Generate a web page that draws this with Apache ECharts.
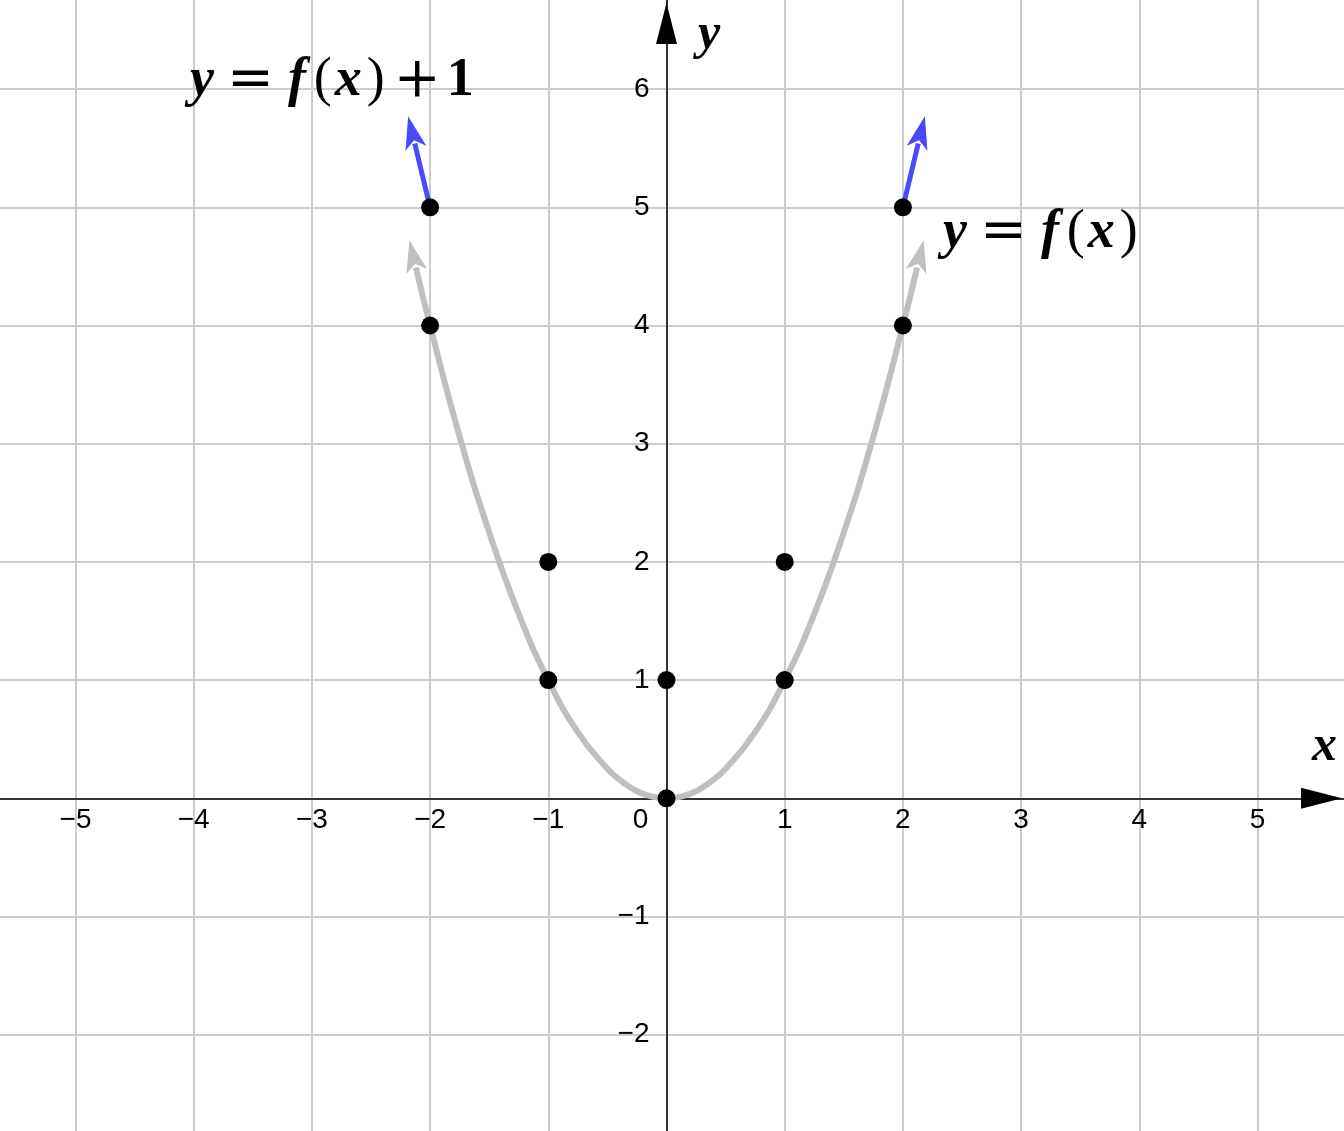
<!DOCTYPE html>
<html>
<head>
<meta charset="utf-8">
<script src="https://cdn.jsdelivr.net/npm/echarts@6/dist/echarts.min.js"></script>
<style>
html,body{margin:0;padding:0;background:#fff;overflow:hidden;}
#chart{width:1344px;height:1131px;}
</style>
</head>
<body>
<div id="chart"></div>
<script>
// ---- data ----
const xTickMin = -6, xTickMax = 6;   // unit grid, x
const yTickMin = -3, yTickMax = 7;   // unit grid, y

// y = f(x): grey parabola (ends carry arrowheads)
const curveX = [-2.12, -2, -1.75, -1.5, -1.25, -1, -0.75, -0.5, -0.375, -0.25, -0.125, 0, 0.125, 0.25, 0.375, 0.5, 0.75, 1, 1.25, 1.5, 1.75, 2, 2.12];
const curveY = [4.49, 4, 3.06, 2.25, 1.56, 1, 0.56, 0.25, 0.14, 0.06, 0.016, 0, 0.016, 0.06, 0.14, 0.25, 0.56, 1, 1.56, 2.25, 3.06, 4, 4.49];

// y = f(x) + 1: short blue arrow tails
const blueLeftX = [-2, -2.13];
const blueLeftY = [5, 5.54];
const blueRightX = [2, 2.13];
const blueRightY = [5, 5.54];

// black points
const pointX = [-2, -2, -1, -1, 0, 0, 1, 1, 2, 2];
const pointY = [4, 5, 1, 2, 0, 1, 1, 2, 4, 5];

// ---- layout (pixels) ----
const W = 1344, H = 1131;
const unit = 118.2;            // px per unit
const originX = 666.5, originY = 798.3;
const gridLeft = originX + xTickMin * unit;            // negative: grid extends past the canvas
const gridRightEdge = originX + xTickMax * unit;
const gridTop = originY - yTickMax * unit;
const gridBottomEdge = originY - yTickMin * unit;

// ---- build ----
const minus = v => (v < 0 ? '\u2212' + Math.abs(v) : String(v));

// arrowhead on the last point, pushed forward along its direction
function withEndArrow(xs, ys, size, angleDeg, push) {
  const a = angleDeg * Math.PI / 180;
  return xs.map((x, i) => {
    const item = { value: [x, ys[i]] };
    if (i === xs.length - 1) {
      item.symbol = 'arrow';
      item.symbolSize = size;
      item.symbolRotate = angleDeg;
      item.symbolOffset = [-Math.sin(a) * push, -Math.cos(a) * push];
    }
    return item;
  });
}

const curveData = withEndArrow(curveX, curveY, [16, 32], -13.5, 28);
{
  const a = 13.5 * Math.PI / 180;
  curveData[0].symbol = 'arrow';
  curveData[0].symbolSize = [16, 32];
  curveData[0].symbolRotate = 13.5;
  curveData[0].symbolOffset = [-Math.sin(a) * 28, -Math.cos(a) * 28];
}

const serif = "'Liberation Serif', serif";
const opFont = "'DejaVu Serif', serif";
const FS = 54;
const mathRich = {
  v:  { fontFamily: serif, fontStyle: 'italic', fontWeight: 'bold', fontSize: FS, color: '#000' },
  eq: { fontFamily: opFont, fontWeight: 'normal', fontSize: 56, color: '#000', padding: [0, 14, 0, 13] },
  lp: { fontFamily: serif, fontWeight: 'normal', fontSize: FS, color: '#000', padding: [0, 0, 0, 8] },
  xv: { fontFamily: serif, fontStyle: 'italic', fontWeight: 'bold', fontSize: FS, color: '#000', padding: [0, 0, 0, 3] },
  rp: { fontFamily: serif, fontWeight: 'normal', fontSize: FS, color: '#000', padding: [0, 0, 0, 5] },
  pl: { fontFamily: opFont, fontWeight: 'normal', fontSize: 56, color: '#000', padding: [0, 6, 0, 9] },
  one:{ fontFamily: serif, fontWeight: 'bold', fontSize: FS, color: '#000' },
  ax: { fontFamily: serif, fontStyle: 'italic', fontWeight: 'bold', fontSize: 50, color: '#000' }
};

const labelFont = "'Liberation Sans', Arial, sans-serif";

const option = {
  animation: false,
  backgroundColor: '#ffffff',
  grid: {
    left: gridLeft, right: W - gridRightEdge, top: gridTop, bottom: H - gridBottomEdge,
    containLabel: false, outerBoundsMode: 'none'
  },
  xAxis: {
    type: 'value',
    position: 'bottom',
    offset: originY - gridBottomEdge,
    min: xTickMin, max: xTickMax, interval: 1,
    axisLine: {
      onZero: false,
      lineStyle: { color: '#000', width: 1.5 },
      symbol: ['none', 'triangle'],
      symbolSize: [21, 41],
      symbolOffset: [0, (1321.5 - gridRightEdge)]
    },
    axisTick: { show: false },
    splitLine: { show: true, lineStyle: { color: '#cccccc', width: 2 } },
    axisLabel: {
      show: true,
      margin: 8,
      fontFamily: labelFont,
      fontSize: 28,
      color: '#000',
      formatter: v => (v === 0 ? '{z|0}' : minus(v)),
      rich: { z: { padding: [0, 52, 0, 0], fontFamily: labelFont, fontSize: 28, color: '#000' } }
    }
  },
  yAxis: {
    type: 'value',
    position: 'left',
    offset: gridLeft - originX,
    min: yTickMin, max: yTickMax, interval: 1,
    axisLine: {
      onZero: false,
      lineStyle: { color: '#000', width: 1.5 },
      symbol: ['none', 'triangle'],
      symbolSize: [21, 41],
      symbolOffset: [0, gridTop - 23.5]
    },
    axisTick: { show: false },
    splitLine: { show: true, lineStyle: { color: '#cccccc', width: 2 } },
    axisLabel: {
      show: true,
      margin: 17,
      fontFamily: labelFont,
      fontSize: 28,
      color: '#000',
      padding: [3, 0, 0, 0],
      formatter: v => (v === 0 ? '' : minus(v))
    }
  },
  graphic: [
    { type: 'text', left: 190, top: 53, z: 100,
      style: { text: '{v|y}{eq|=}{v|f}{lp|(}{xv|x}{rp|)}{pl|+}{one|1}', rich: mathRich } },
    { type: 'text', left: 943, top: 205, z: 100,
      style: { text: '{v|y}{eq|=}{v|f}{lp|(}{xv|x}{rp|)}', rich: mathRich } },
    { type: 'text', left: 1312, top: 722, z: 100,
      style: { text: '{ax|x}', rich: mathRich } },
    { type: 'text', left: 698, top: 10, z: 100,
      style: { text: '{ax|y}', rich: mathRich } }
  ],
  series: [
    {
      name: 'y = f(x)',
      type: 'line',
      smooth: true,
      symbol: 'none',
      showSymbol: true,
      data: curveData,
      lineStyle: { color: '#bfbfbf', width: 6 },
      itemStyle: { color: '#bfbfbf', opacity: 1 },
      z: 3
    },
    {
      name: 'y = f(x) + 1 (left)',
      type: 'line',
      symbol: 'none',
      showSymbol: true,
      data: withEndArrow(blueLeftX, blueLeftY, [16, 33], 13.6, 28),
      lineStyle: { color: '#4a4aff', width: 5 },
      itemStyle: { color: '#4848ff', opacity: 1 },
      z: 3
    },
    {
      name: 'y = f(x) + 1 (right)',
      type: 'line',
      symbol: 'none',
      showSymbol: true,
      data: withEndArrow(blueRightX, blueRightY, [16, 33], -13.6, 28),
      lineStyle: { color: '#4a4aff', width: 5 },
      itemStyle: { color: '#4848ff', opacity: 1 },
      z: 3
    },
    {
      name: 'points',
      type: 'scatter',
      symbol: 'circle',
      symbolSize: 18,
      data: pointX.map((x, i) => [x, pointY[i]]),
      itemStyle: { color: '#000', opacity: 1 },
      z: 5
    }
  ]
};

const chart = echarts.init(document.getElementById('chart'), null, { renderer: 'canvas' });
chart.setOption(option);
</script>
</body>
</html>
